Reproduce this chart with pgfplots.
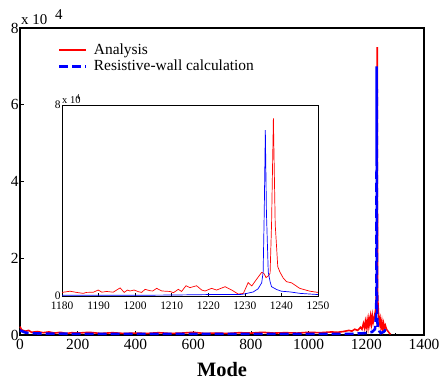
\documentclass[border=0pt]{standalone}
\usepackage{pgfplots}
\pgfplotsset{compat=1.18}
\usepackage{fontspec}
\setmainfont{Liberation Serif}
\begin{document}
\begin{tikzpicture}
\path[use as bounding box] (-20bp,-46bp) rectangle (419bp,335bp);
\begin{axis}[
  name=main,
  at={(0bp,0bp)}, anchor=south west,
  scale only axis, width=404bp, height=307bp,
  xmin=0, xmax=1400, ymin=0, ymax=8,
  xtick={0,200,...,1400}, ytick={0,2,4,6,8},
  minor x tick num=1,
  tick align=inside, major tick length=4bp, minor tick length=2bp,
  axis line style={line width=1.2pt},
  every tick/.style={black, line width=0.6pt},
  ticklabel style={font=\fontsize{15.5}{17}\selectfont},
  /pgf/number format/assume math mode=true,
  /pgf/number format/set thousands separator={},
  xticklabel style={yshift=-1bp},
  yticklabel style={xshift=2bp},
  xtick pos=bottom, ytick pos=left,
  xlabel={\textbf{Mode}}, xlabel style={font=\fontsize{20.5}{22}\selectfont, yshift=-6bp},
  legend style={at={(0.094,0.955)}, anchor=north west, draw=none, fill=none,
    font=\fontsize{15.5}{17}\selectfont, row sep=0bp, inner sep=0bp},
  legend cell align=left,
  legend image code/.code={\draw[#1] (0cm,0cm) -- (0.95cm,0cm); \path (1.1cm,0cm);},
  clip=false,
]
\addplot[red, line width=1.6pt] coordinates {
(0,0.22)(5,0.14)(10,0.12)(20,0.1)(30,0.12)(40,0.07)(60,0.09)(80,0.06)(100,0.08)(120,0.05)
(140,0.07)(160,0.04)(180,0.06)(200,0.05)(240,0.07)(280,0.04)(320,0.06)(360,0.04)(400,0.05)
(440,0.04)(480,0.06)(520,0.04)(560,0.05)(600,0.07)(640,0.04)(680,0.05)(720,0.04)(760,0.06)
(800,0.05)(840,0.07)(880,0.05)(920,0.06)(960,0.05)(1000,0.07)(1040,0.06)(1080,0.08)
(1100,0.07)(1120,0.09)(1140,0.12)(1150,0.1)(1160,0.15)(1170,0.12)(1180,0.2)(1185,0.15)
(1190,0.3)(1194,0.18)(1197,0.35)(1200,0.22)(1203,0.38)(1206,0.2)(1209,0.42)(1212,0.28)
(1215,0.48)(1218,0.3)(1221,0.5)(1224,0.33)(1227,0.42)(1230,0.55)(1232,0.45)(1234,0.9)
(1236,0.85)(1237,1.0)(1238,7.5)(1239,1.2)(1240,0.9)(1242,0.6)(1245,0.3)(1248,0.42)
(1251,0.2)(1254,0.35)(1257,0.15)(1260,0.3)(1263,0.18)(1266,0.25)(1270,0.15)(1275,0.1)
(1280,0.05)(1284,0.02)
};
\addlegendentry{Analysis}
\addplot[blue, line width=2.6pt, dash pattern=on 9bp off 4bp] coordinates {
(0,0.12)(10,0.09)(20,0.06)(60,0.04)(200,0.03)(400,0.03)(600,0.03)(800,0.03)(1000,0.03)
(1150,0.03)(1200,0.05)(1220,0.08)(1230,0.15)(1234,0.5)(1235,1.0)(1236,7.0)(1237,0.8)
(1238,0.4)(1240,0.2)(1245,0.1)(1250,0.05)(1260,0.08)(1265,0.12)(1270,0.1)(1275,0.04)
};
\addlegendentry{Resistive-wall calculation}
\end{axis}
\node[anchor=base west, font=\fontsize{15}{16}\selectfont, inner sep=0pt] at (1bp,310bp) {x 10};
\node[anchor=base west, font=\fontsize{15}{16}\selectfont, inner sep=0pt] at (35bp,315bp) {4};
\begin{axis}[
  at={(42bp,39bp)}, anchor=south west,
  scale only axis, width=256bp, height=191bp,
  xmin=1180, xmax=1250, ymin=0, ymax=8,
  xtick={1180,1190,...,1250}, ytick={0,8},
  tick align=inside, major tick length=3bp,
  axis line style={line width=0.8pt},
  every tick/.style={black, line width=0.5pt},
  ticklabel style={font=\fontsize{11.5}{13}\selectfont},
  /pgf/number format/assume math mode=true,
  /pgf/number format/set thousands separator={},
  xtick pos=bottom, ytick pos=left,
  xticklabel style={yshift=-2bp},
  yticklabel style={xshift=2bp},
  axis background/.style={fill=white},
  clip=true,
]
\addplot[red, line width=0.7pt] coordinates {
(1180,0.15)(1182.2,0.2)(1184,0.15)(1185.8,0.11)(1186.7,0.15)(1188.6,0.16)(1189.9,0.25)
(1190.9,0.16)(1192.2,0.19)(1194,0.16)(1195.9,0.34)(1197,0.15)(1197.9,0.25)(1198.6,0.21)
(1199.7,0.25)(1200.9,0.18)(1201.8,0.15)(1202.7,0.28)(1204.1,0.22)(1204.8,0.21)(1205.9,0.32)
(1207.3,0.21)(1209.5,0.19)(1210.5,0.14)(1211.8,0.28)(1212.7,0.19)(1213.9,0.43)(1215,0.35)
(1216.8,0.43)(1218.2,0.25)(1219.1,0.21)(1220.9,0.32)(1222.3,0.25)(1224.6,0.39)(1226.4,0.25)
(1228.2,0.08)(1229.6,0.11)(1230.9,0.56)(1231.9,0.42)(1233.2,0.7)(1234.6,0.99)(1235.2,0.95)
(1235.8,0.77)(1236.4,0.84)(1236.9,0.95)(1237.3,3.0)(1237.8,7.45)(1238.3,3.0)(1239,1.23)
(1239.6,1.0)(1240.5,0.75)(1241.4,0.6)(1242.8,0.55)(1245,0.32)(1247.8,0.2)(1250,0.15)
};
\addplot[blue, line width=0.7pt] coordinates {
(1180,0.03)(1190,0.03)(1200,0.03)(1210,0.04)(1220,0.06)(1228.7,0.06)(1230,0.09)
(1232.3,0.17)(1233.6,0.3)(1234.6,0.55)(1235.0,1.0)(1235.3,3.5)(1235.6,6.95)(1235.9,3.5)
(1236.4,1.0)(1236.9,0.6)(1237.3,0.39)(1238.7,0.27)(1240,0.2)(1242.4,0.17)(1245.1,0.11)
(1250,0.06)
};
\end{axis}
\node[anchor=base west, font=\fontsize{10.5}{12}\selectfont, inner sep=0pt] at (42bp,231bp) {x 10};
\node[anchor=base west, font=\fontsize{7.5}{9}\selectfont, inner sep=0pt] at (56bp,235bp) {4};
\end{tikzpicture}
\end{document}
